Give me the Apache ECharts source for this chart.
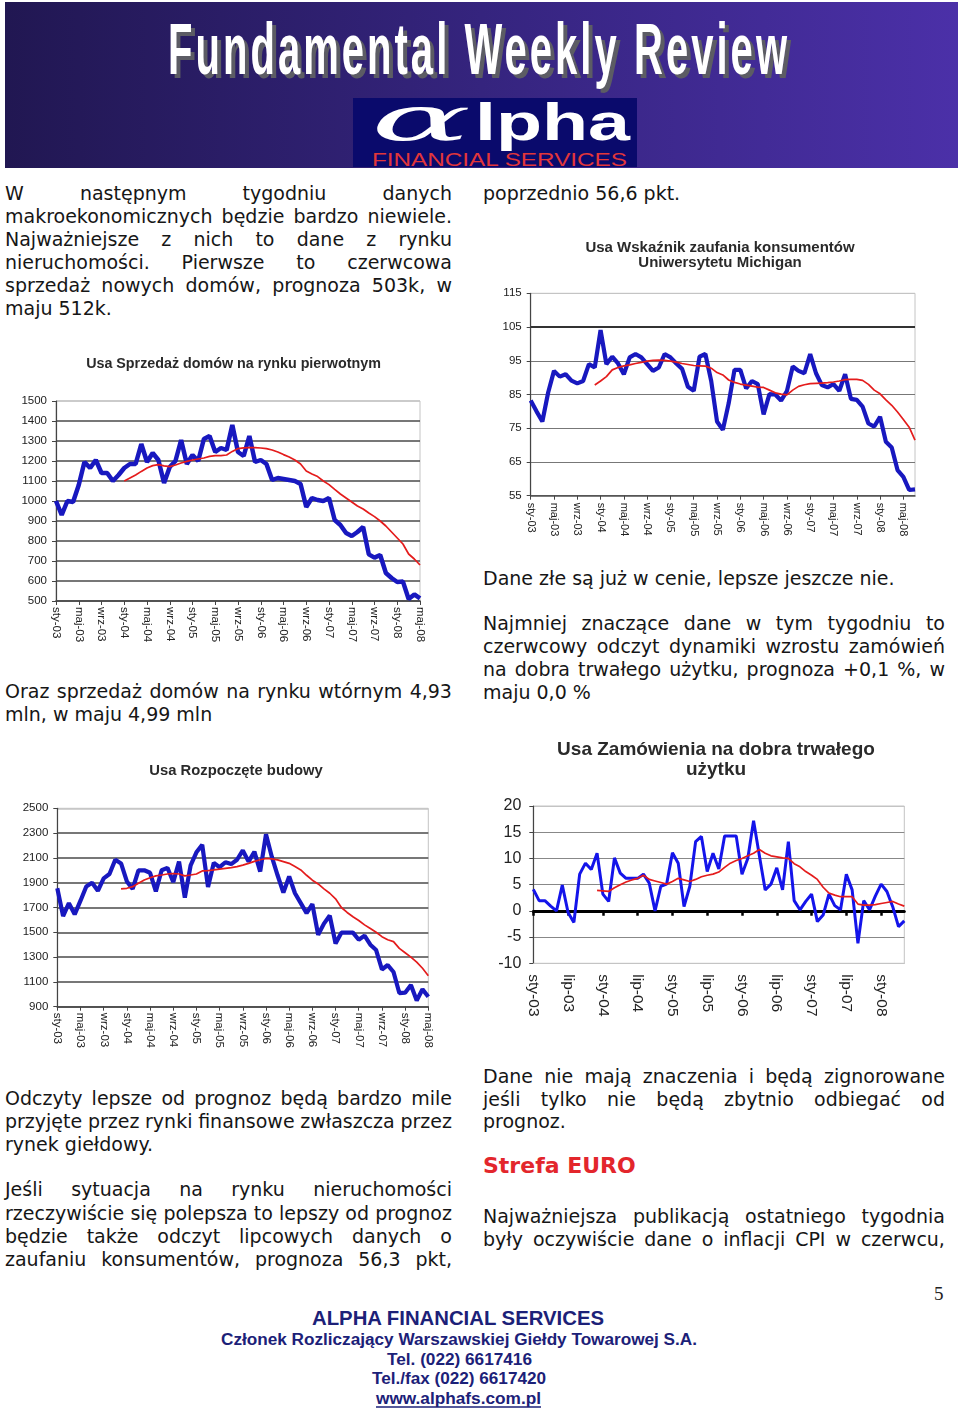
<!DOCTYPE html>
<html><head><meta charset="utf-8">
<script src="https://cdn.jsdelivr.net/npm/echarts/dist/echarts.min.js"></script>
<style>
html,body{margin:0;padding:0;background:#fff;}
#page{position:relative;width:960px;height:1413px;overflow:hidden;background:#fff;}
.ln{position:absolute;height:23px;line-height:23px;font-family:"DejaVu Sans",Verdana,sans-serif;font-size:19px;color:#161616;white-space:nowrap;}
.j{display:flex;justify-content:space-between;}
.chart{position:absolute;}
svg{position:absolute;left:0;}
</style></head><body><div id="page">

<svg style="top:0" width="960" height="172">
  <defs><linearGradient id="hg" x1="0" x2="1" y1="0" y2="0">
    <stop offset="0" stop-color="#211752"/><stop offset="0.5" stop-color="#35247e"/><stop offset="1" stop-color="#4b30a8"/>
  </linearGradient></defs>
  <rect x="5" y="2" width="953" height="166" fill="url(#hg)"/>
  <g transform="translate(172,77.5) scale(1,1.8)">
    <text x="0" y="0" textLength="619" lengthAdjust="spacing" font-family="Liberation Sans, Arial, sans-serif" font-weight="bold" font-size="40" fill="#5c5c64">Fundamental Weekly Review</text>
  </g>
  <g transform="translate(168,73.5) scale(1,1.8)">
    <text x="0" y="0" textLength="619" lengthAdjust="spacing" font-family="Liberation Sans, Arial, sans-serif" font-weight="bold" font-size="40" fill="#ffffff">Fundamental Weekly Review</text>
  </g>
  <rect x="353" y="98" width="284" height="69" fill="#0a0a6c"/>
  <text x="371" y="140" textLength="100" lengthAdjust="spacingAndGlyphs" font-family="DejaVu Serif, serif" font-style="italic" font-size="62" fill="#ffffff">α</text>
  <text x="475" y="140" textLength="155" lengthAdjust="spacingAndGlyphs" font-family="Liberation Sans, Arial, sans-serif" font-weight="bold" font-size="52" fill="#ffffff">lpha</text>
  <text x="372" y="166" textLength="255" lengthAdjust="spacingAndGlyphs" font-family="Liberation Sans, sans-serif" font-size="17.5" fill="#e2363a">FINANCIAL SERVICES</text>
</svg>

<div id="c1" class="chart" style="left:0;top:340px;width:460px;height:320px"></div>
<div id="c2" class="chart" style="left:480px;top:228px;width:470px;height:320px"></div>
<div id="c3" class="chart" style="left:0;top:748px;width:460px;height:320px"></div>
<div id="c4" class="chart" style="left:480px;top:725px;width:470px;height:320px"></div>

<div class="ln" style="left:483px;top:1152px;height:28px;line-height:28px;font-size:22px;font-weight:bold;color:#e3262c">Strefa EURO</div>

<svg style="top:1280px" width="960" height="133">
  <text x="934" y="20" font-family="Liberation Serif, DejaVu Serif, serif" font-size="19" fill="#222">5</text>
  <text x="312" y="45" textLength="292" lengthAdjust="spacingAndGlyphs" font-family="Liberation Sans Narrow, Liberation Sans, sans-serif" font-weight="bold" font-size="21" fill="#1c2178">ALPHA FINANCIAL SERVICES</text>
  <text x="221" y="65" textLength="476" lengthAdjust="spacingAndGlyphs" font-family="Liberation Sans Narrow, Liberation Sans, sans-serif" font-weight="bold" font-size="16" fill="#1c2178">Członek Rozliczający Warszawskiej Giełdy Towarowej S.A.</text>
  <text x="387" y="85" textLength="145" lengthAdjust="spacingAndGlyphs" font-family="Liberation Sans Narrow, Liberation Sans, sans-serif" font-weight="bold" font-size="16" fill="#1c2178">Tel. (022) 6617416</text>
  <text x="372" y="104" textLength="174" lengthAdjust="spacingAndGlyphs" font-family="Liberation Sans Narrow, Liberation Sans, sans-serif" font-weight="bold" font-size="16" fill="#1c2178">Tel./fax (022) 6617420</text>
  <text x="376" y="124" textLength="165" lengthAdjust="spacingAndGlyphs" font-family="Liberation Sans Narrow, Liberation Sans, sans-serif" font-weight="bold" font-size="16" fill="#1c2178">www.alphafs.com.pl</text>
  <line x1="376" y1="127" x2="541" y2="127" stroke="#1c2178" stroke-width="1.3"/>
</svg>

</div>
<script>
// ---------- DATA ----------
const MONTHS = ['sty','lut','mar','kwi','maj','cze','lip','sie','wrz','paź','lis','gru'];
function monthLabels(n){ const out=[]; for(let i=0;i<n;i++){ out.push(MONTHS[i%12]+'-'+String(3+Math.floor(i/12)).padStart(2,'0')); } return out; }

const salesCategories = monthLabels(65);   // sty-03 .. maj-08
const salesActual = [1000, 930, 1000, 995, 1080, 1195, 1165, 1205, 1140, 1140, 1100, 1130,
  1165, 1185, 1185, 1285, 1195, 1240, 1205, 1090, 1170, 1200, 1305, 1185,
  1230, 1200, 1310, 1325, 1245, 1265, 1255, 1380, 1245, 1225, 1325, 1195,
  1205, 1185, 1105, 1115, 1110, 1105, 1100, 1085, 970, 1015, 1005, 1000,
  1015, 905, 880, 840, 825, 845, 870, 733, 717, 730, 640, 615, 595, 597, 510, 533, 513];
const salesAvg = [null,null,null,null,null,null,null,null,null,null,null,null,
  1100, 1115, 1130, 1148, 1165, 1177, 1182, 1176, 1172, 1180, 1190, 1198,
  1205, 1210, 1215, 1223, 1227, 1227, 1230, 1248, 1262, 1266, 1267, 1267,
  1265, 1262, 1255, 1245, 1232, 1220, 1205, 1185, 1150, 1135, 1122, 1100,
  1082, 1058, 1035, 1015, 995, 975, 960, 940, 922, 900, 875, 845,
  815, 785, 735, 710, 680];

const michCategories = monthLabels(67);    // sty-03 .. lip-08
const michActual = [83.2, 80, 77, 85.6, 92, 90.3, 91, 89.1, 88.3, 89, 94, 93,
  104.1, 94, 96.2, 94.2, 91, 96, 97, 96, 94, 92, 93, 97,
  96, 94.2, 92.6, 87.3, 86.1, 96.2, 97, 89, 77, 74.5, 82.4, 92.3,
  92.3, 86.8, 89, 88.1, 79.1, 85.1, 85, 83.2, 86, 93.3, 92, 91.3,
  97, 91.3, 87.8, 87.1, 88.1, 86.1, 91, 83.7, 83.4, 81.4, 76.4, 75.5,
  78.4, 71, 69.3, 62.6, 60.6, 56.7, 56.9];
const michAvg = [null,null,null,null,null,null,null,null,null,null,null,
  87.8, 89, 90.3, 92.3, 93, 93.5, 93.8, 94.2, 94.5, 94.9, 95.1, 95.2,
  95.1, 94.9, 94.6, 94.2, 93.9, 93.6, 93.5, 93.4, 92.8, 91.5, 90.8, 89.3,
  88.6, 88.1, 87.8, 87.5, 87.2, 87.1, 86.3, 85.5, 85.1, 84.9, 86.3, 87.4,
  87.9, 88.2, 88.3, 88.4, 88.5, 88.7, 89, 89.4, 89.5, 89.5, 89.2, 88,
  86.3, 85.2, 83.4, 81.8, 79.8, 77.6, 75.3, 71.5];

const startsCategories = monthLabels(65);  // sty-03 .. maj-08
const startsActual = [1855, 1630, 1735, 1645, 1755, 1870, 1900, 1835, 1935, 1970, 2085, 2055,
  1910, 1850, 2000, 2000, 1980, 1830, 2000, 2020, 1905, 2070, 1780, 2040,
  2145, 2205, 1865, 2060, 2025, 2065, 2050, 2085, 2160, 2070, 2150, 1990,
  2290, 2110, 1960, 1820, 1950, 1815, 1735, 1655, 1728, 1480, 1570, 1635,
  1410, 1497, 1497, 1497, 1440, 1473, 1400, 1357, 1200, 1236, 1180, 1010,
  1013, 1075, 950, 1040, 980];
const startsAvg = [null,null,null,null,null,null,null,null,null,null,null,
  1850, 1855, 1868, 1895, 1922, 1940, 1955, 1962, 1970, 1974, 1970, 1955,
  1962, 1970, 1995, 1998, 2003, 2010, 2016, 2022, 2030, 2042, 2056, 2072,
  2085, 2095, 2092, 2084, 2070, 2056, 2030, 2003, 1960, 1920, 1890, 1850,
  1815, 1770, 1700, 1660, 1625, 1595, 1560, 1530, 1500, 1465, 1440, 1425,
  1370, 1335, 1300, 1260, 1210, 1150];

const durableCategories = monthLabels(65); // sty-03 .. maj-08
const durableActual = [4.1, 1.95, 1.95, 0.9, 0, 4.9, -0.3, -2.2, 7, 9.1, 7.9, 11,
  3.2, 1.8, 10.1, 7.2, 6.2, 6.2, 6.2, 7, 5.3, 0, 4.7, 5.1,
  11.1, 9.1, 0.8, 4.7, 13.2, 14.2, 7.5, 11, 8, 14.3, 14.3, 14.3,
  7, 10, 17.2, 10.5, 4, 5.1, 8.2, 4, 13.2, 1.95, 0.2, 1.8,
  3.2, -2.05, -0.8, 3.2, 1, 0.2, 7, 4, -6.2, 1.95, 0.2, 2.8,
  5.1, 3.7, 0.8, -3, -1.9];
const durableAvg = [null,null,null,null,null,null,null,null,null,null,null,
  3.9, 3.8, 3.7, 4.4, 5, 5.5, 5.9, 6.2, 6.8, 6, 5.7, 5.4,
  5.1, 5.6, 6.2, 5.9, 5.6, 6, 6.5, 6.8, 7, 7.4, 8.3, 9.1,
  9.6, 10, 10.5, 11, 11.7, 11, 10.5, 10.3, 10.1, 10, 9, 8.4,
  7.5, 6.8, 6, 4.5, 3.4, 3, 2.7, 2.7, 2.7, 1.3, 1.1, 1.1,
  1.2, 1.4, 1.6, 1.8, 1.3, 0.9];

// ---------- TEXT ----------
const LINES = [
  [5,447,193,'W następnym tygodniu danych',1],
  [5,447,216,'makroekonomicznych będzie bardzo niewiele.',1],
  [5,447,239,'Najważniejsze z nich to dane z rynku',1],
  [5,447,262,'nieruchomości. Pierwsze to czerwcowa',1],
  [5,447,285,'sprzedaż nowych domów, prognoza 503k, w',1],
  [5,447,308,'maju 512k.',0],
  [5,447,691,'Oraz sprzedaż domów na rynku wtórnym 4,93',1],
  [5,447,714,'mln, w maju 4,99 mln',0],
  [5,447,1098,'Odczyty lepsze od prognoz będą bardzo mile',1],
  [5,447,1121,'przyjęte przez rynki finansowe zwłaszcza przez',1],
  [5,447,1144,'rynek giełdowy.',0],
  [5,447,1189,'Jeśli sytuacja na rynku nieruchomości',1],
  [5,447,1213,'rzeczywiście się polepsza to lepszy od prognoz',1],
  [5,447,1236,'będzie także odczyt lipcowych danych o',1],
  [5,447,1259,'zaufaniu konsumentów, prognoza 56,3 pkt,',1],
  [483,462,193,'poprzednio 56,6 pkt.',0],
  [483,462,578,'Dane złe są już w cenie, lepsze jeszcze nie.',0],
  [483,462,623,'Najmniej znaczące dane w tym tygodniu to',1],
  [483,462,646,'czerwcowy odczyt dynamiki wzrostu zamówień',1],
  [483,462,669,'na dobra trwałego użytku, prognoza +0,1 %, w',1],
  [483,462,692,'maju 0,0 %',0],
  [483,462,1076,'Dane nie mają znaczenia i będą zignorowane',1],
  [483,462,1099,'jeśli tylko nie będą zbytnio odbiegać od',1],
  [483,462,1121,'prognoz.',0],
  [483,462,1216,'Najważniejsza publikacją ostatniego tygodnia',1],
  [483,462,1239,'były oczywiście dane o inflacji CPI w czerwcu,',1]
];
const page = document.getElementById('page');
LINES.forEach(([x,w,cy,t,j])=>{
  const d = document.createElement('div');
  d.className = 'ln' + (j ? ' j' : '');
  d.style.left = x+'px'; d.style.width = w+'px'; d.style.top = (cy-11.5)+'px';
  if (j) { t.split(' ').forEach(word=>{ const s=document.createElement('span'); s.textContent=word; d.appendChild(s); }); }
  else d.textContent = t;
  page.appendChild(d);
});

// ---------- CHARTS ----------
const FONT = 'Liberation Sans, Arial, sans-serif';
function build(c){
  const xAxes = [{
    type:'category', data:c.cats, boundaryGap:false,
    axisLine:{onZero:false, lineStyle:{color:c.xLineColor, width:c.xLineWidth}},
    axisTick:{show:c.xTicks, interval:c.labelInterval, length:4, lineStyle:{color:'#444'}},
    axisLabel:{interval:c.labelInterval, rotate:-90, fontSize:c.xFont, color:'#222', fontFamily:FONT, margin:c.xMargin},
    splitLine:{show:false}
  }];
  if (c.zeroAxis) {
    xAxes.push({
      type:'category', data:c.cats, boundaryGap:false, position:'bottom',
      axisLine:{onZero:true, lineStyle:{color:'#000', width:3}},
      axisTick:{show:true, interval:c.labelInterval, length:5, lineStyle:{color:'#000', width:2.5}},
      axisLabel:{show:false}, splitLine:{show:false}
    });
  }
  const series = [
    {type:'line', data:c.actual, symbol:'none', lineStyle:{color:c.blue, width:c.blueWidth}, z:3,
     markLine: c.markY!=null ? {silent:true, symbol:'none', label:{show:false}, lineStyle:{color:'#333', width:2.2, type:'solid'}, data:[{yAxis:c.markY}]} : undefined},
    {type:'line', data:c.avg, symbol:'none', lineStyle:{color:'#e41c1c', width:1.7}, z:4}
  ];
  return {
    animation:false,
    title:{text:c.title, left:c.titleX, top:c.titleTop, textAlign:'center',
      textStyle:{fontFamily:FONT, fontSize:c.titleSize, fontWeight:'bold', color:'#2a2a2a', lineHeight:c.titleLH}},
    grid:{left:c.grid[0], top:c.grid[1], width:c.grid[2], height:c.grid[3], show:true, borderColor:'#c4c4c4', borderWidth:1},
    xAxis:xAxes,
    yAxis:{type:'value', min:c.min, max:c.max, interval:c.interval,
      axisLine:{show:true, lineStyle:{color:'#444', width:1.2}},
      axisTick:{show:true, length:4, lineStyle:{color:'#444'}},
      axisLabel:{fontSize:c.yFont, color:'#222', fontFamily:FONT, margin:c.yMargin, formatter:(v)=>String(v)},
      splitLine:{show:true, lineStyle:{color:c.splitColors, width:c.splitWidth}}},
    series:series
  };
}

const charts = [
  ['c1', {title:'Usa Sprzedaż domów na rynku pierwotnym', titleX:228.5, titleTop:11, titleSize:14.3, titleLH:16,
    grid:[56,61,364,200], cats:salesCategories, actual:salesActual, avg:salesAvg,
    min:500, max:1500, interval:100, yFont:11.5, yMargin:9, xFont:11.5, xMargin:6, labelInterval:3, xTicks:true,
    xLineColor:'#4a4a4a', xLineWidth:1.7, blue:'#1818bf', blueWidth:4.5,
    splitColors:['#4a4a4a','#4a4a4a','#4a4a4a','#4a4a4a','#4a4a4a','#4a4a4a','#4a4a4a','#4a4a4a','#4a4a4a','#4a4a4a','#c4c4c4'], splitWidth:1.7}],
  ['c2', {title:'Usa Wskaźnik zaufania konsumentów\nUniwersytetu Michigan', titleX:235, titleTop:8, titleSize:15, titleLH:14.5,
    grid:[50.7,65.3,384.3,202.4], cats:michCategories, actual:michActual, avg:michAvg,
    min:55, max:115, interval:10, yFont:11.5, yMargin:9, xFont:11, xMargin:7, labelInterval:3, xTicks:true,
    xLineColor:'#555', xLineWidth:1.5, blue:'#1818bf', blueWidth:4.2, markY:105,
    splitColors:['#555','#777','#777','#777','#777','#333','#c4c4c4'], splitWidth:1.2}],
  ['c3', {title:'Usa Rozpoczęte budowy', titleX:231, titleTop:10, titleSize:14.8, titleLH:16,
    grid:[57.3,60.3,371,198.4], cats:startsCategories, actual:startsActual, avg:startsAvg,
    min:900, max:2500, interval:200, yFont:11.5, yMargin:9, xFont:11.5, xMargin:6, labelInterval:3, xTicks:true,
    xLineColor:'#4a4a4a', xLineWidth:1.7, blue:'#1818bf', blueWidth:4.2,
    splitColors:['#4a4a4a','#4a4a4a','#4a4a4a','#4a4a4a','#4a4a4a','#4a4a4a','#4a4a4a','#4a4a4a','#c4c4c4'], splitWidth:1.7}],
  ['c4', {title:'Usa Zamówienia na dobra trwałego\nużytku', titleX:231, titleTop:10, titleSize:19, titleLH:20,
    grid:[53.3,81,371,157.3], cats:durableCategories, actual:durableActual, avg:durableAvg,
    min:-10, max:20, interval:5, yFont:16, yMargin:12, xFont:15.5, xMargin:11, labelInterval:5, xTicks:false,
    xLineColor:'#c4c4c4', xLineWidth:1, blue:'#1414ea', blueWidth:3, zeroAxis:true,
    splitColors:['#c4c4c4','#888','#000','#888','#888','#888','#c4c4c4'], splitWidth:1.2}]
];
charts.forEach(([id,cfg])=>{
  const ch = echarts.init(document.getElementById(id), null, {renderer:'canvas'});
  ch.setOption(build(cfg));
});
</script>
</body></html>
